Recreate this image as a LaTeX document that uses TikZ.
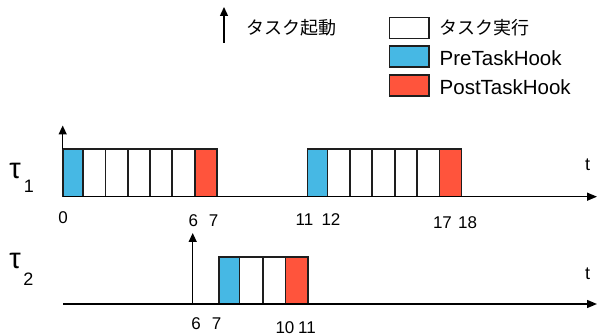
\documentclass[tikz,border=0pt]{standalone}
\usepackage{fontspec}
\setmainfont{Liberation Sans}
\newfontfamily\jpfont{Noto Sans CJK JP}
\usetikzlibrary{arrows.meta}

\definecolor{prehook}{RGB}{70,184,228}
\definecolor{posthook}{RGB}{255,84,60}
\definecolor{edge}{RGB}{30,30,30}

\tikzset{
  cell/.style={draw=edge, line width=1.6pt, inner sep=0pt, minimum height=47.4pt},
  run/.style={cell, fill=white},
  pre/.style={cell, fill=prehook},
  post/.style={cell, fill=posthook},
  axis/.style={line width=1.4pt, -{Triangle[length=10pt,width=8pt]}},
  release/.style={line width=1.4pt, -{Triangle[length=9pt,width=8pt]}},
  tick/.style={anchor=base, font=\fontsize{17}{17}\selectfont, inner sep=0pt},
  tlabel/.style={anchor=base, font=\fontsize{18}{18}\selectfont, inner sep=0pt},
  tau/.style={anchor=base, font=\fontsize{29}{29}\selectfont, inner sep=0pt},
  tausub/.style={anchor=base, font=\fontsize{18}{18}\selectfont, inner sep=0pt},
  legbox/.style={draw=edge, line width=1.6pt, inner sep=0pt, minimum width=39.7pt, minimum height=21pt},
  legtext/.style={anchor=west, inner sep=0pt, font=\fontsize{20.5}{20.5}\selectfont},
  jptext/.style={anchor=west, inner sep=0pt, font=\jpfont\fontsize{18}{18}\selectfont}
}

\begin{document}
\begin{tikzpicture}[x=1pt, y=-1pt]
  \useasboundingbox (0,0) rectangle (598,336);

  % ---------- legend ----------
  \coordinate (lgA) at (224,43);
  \coordinate (lgB) at (224,7);
  \draw[release] (lgA) -- (lgB);
  \node[jptext] (lgAct) at (246,28) {タスク起動};

  \node[legbox, fill=white]    (lgRun)  at (409.2,28)   {};
  \node[legbox, fill=prehook]  (lgPre)  at (409.2,56.7) {};
  \node[legbox, fill=posthook] (lgPost) at (409.2,85.4) {};
  \node[jptext]  (lgRunT)  at (439.5,28)   {タスク実行};
  \node[legtext] (lgPreT)  at (439.5,58)   {PreTaskHook};
  \node[legtext] (lgPostT) at (439.5,87)   {PostTaskHook};

  % ---------- task 1 ----------
  \coordinate (aS) at (62.7,196.7);
  \coordinate (aE) at (597,196.7);
  \coordinate (rA) at (62.7,149.3);
  \coordinate (rB) at (62.7,125.5);

  \foreach \xa/\xb/\kind/\nm in {62.7/82.7/pre/a0, 82.7/105.3/run/a1, 105.3/128/run/a2,
      128/150/run/a3, 150/172/run/a4, 172/194.7/run/a5, 194.7/216.7/post/a6,
      307.3/327.3/pre/b0, 327.3/350/run/b1, 350/372/run/b2, 372/394.7/run/b3,
      394.7/416.7/run/b4, 416.7/439.3/run/b5, 439.3/461.3/post/b6}
    \node[\kind, minimum width={(\xb-\xa)*1pt}] (\nm) at ({(\xa+\xb)/2},173) {};

  \draw[axis] (aS) -- (aE);
  \draw[release] (rA) -- (rB);

  \node[tau] (tauA) at (15,179) {τ};
  \node[tausub] (tauAs) at (29,193) {1};
  \node[tlabel] (tA) at (587.5,171) {t};

  \node[tick] (k0)  at (63,224)      {0};
  \node[tick] (k6)  at (193.3,226.5) {6};
  \node[tick] (k7)  at (213.7,226.5) {7};
  \node[tick] (k11) at (304.5,226)   {11};
  \node[tick] (k12) at (331,226)     {12};
  \node[tick] (k17) at (442.5,229)   {17};
  \node[tick] (k18) at (467.5,229)   {18};

  % ---------- task 2 ----------
  \coordinate (cS) at (63.3,304);
  \coordinate (cE) at (597,304);
  \coordinate (sA) at (192.7,304);
  \coordinate (sB) at (192.7,233);

  \foreach \xa/\xb/\kind/\nm in {218.7/239.3/pre/c0, 239.3/262.7/run/c1,
      262.7/285.3/run/c2, 285.3/308/post/c3}
    \node[\kind, minimum width={(\xb-\xa)*1pt}] (\nm) at ({(\xa+\xb)/2},280.65) {};

  \draw[axis] (cS) -- (cE);
  \draw[release] (sA) -- (sB);

  \node[tau] (tauB) at (15,269) {τ};
  \node[tausub] (tauBs) at (28.5,286) {2};
  \node[tlabel] (tB) at (587.5,280) {t};

  \node[tick] (m6)  at (196,329.3)   {6};
  \node[tick] (m7)  at (216.7,329.3) {7};
  \node[tick] (m10) at (285,333.3)   {10};
  \node[tick] (m11) at (307,333.3)   {11};
\end{tikzpicture}
\end{document}
